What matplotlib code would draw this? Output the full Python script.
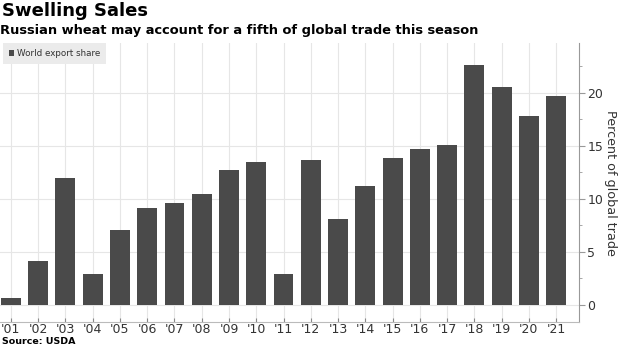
import numpy as np
import matplotlib.pyplot as plt
from matplotlib.ticker import MultipleLocator

# ---------------------------
# Data
# ---------------------------
years = ["'01", "'02", "'03", "'04", "'05", "'06", "'07", "'08", "'09", "'10", "'11",
         "'12", "'13", "'14", "'15", "'16", "'17", "'18", "'19", "'20", "'21"]
share = [0.7, 4.1, 12.0, 2.9, 7.1, 9.1, 9.6, 10.5, 12.7, 13.5, 2.9,
         13.7, 8.1, 11.2, 13.9, 14.7, 15.1, 22.6, 20.6, 17.8, 19.7]

bar_color = "#4a4a4a"
grid_color = "#e6e6e6"
text_color = "#333333"

# ---------------------------
# Plot
# ---------------------------
fig = plt.figure(figsize=(6.2, 3.48), dpi=100)
ax = fig.add_axes([0.0, 0.075, 0.934, 0.801])

x = np.arange(len(years))
ax.bar(x, share, width=0.73, color=bar_color, zorder=3, label="World export share")

ax.set_xlim(-0.40, 20.84)
ax.set_ylim(-1.6, 24.7)
ax.set_xticks(x)
ax.set_xticklabels(years, fontsize=9, color=text_color)

ax.yaxis.tick_right()
ax.yaxis.set_label_position("right")
ax.yaxis.set_minor_locator(MultipleLocator(2.5))
ax.set_yticks([0, 5, 10, 15, 20])
ax.tick_params(axis="y", which="major", length=4, color="#999999", labelsize=9,
               labelcolor=text_color, pad=2)
ax.tick_params(axis="y", which="minor", length=2, color="#999999")
ax.tick_params(axis="x", direction="in", length=3, color="#888888", pad=1)
ax.set_ylabel("Percent of global trade", rotation=270, labelpad=10,
              fontsize=9.2, color=text_color)

ax.grid(True, color=grid_color, linewidth=0.8, zorder=0)
ax.grid(False, which="minor")
for side in ["top", "left"]:
    ax.spines[side].set_visible(False)
ax.spines["right"].set_color("#999999")
ax.spines["bottom"].set_color("#bbbbbb")

leg = ax.legend(loc="upper left", bbox_to_anchor=(0.005, 1.0), frameon=True,
                fontsize=6.3, handlelength=0.6, handleheight=0.6,
                handletextpad=0.3, borderpad=0.7, borderaxespad=0.0)
leg.get_frame().set_facecolor("#ebebeb")
leg.get_frame().set_edgecolor("none")
leg.get_frame().set_alpha(1)
leg.get_frame().set_boxstyle("square", pad=0)
for t in leg.get_texts():
    t.set_color(text_color)

fig.text(0.003, 0.995, "Swelling Sales", fontsize=13, fontweight="bold",
         va="top", ha="left", color="black")
fig.text(0.0, 0.93, "Russian wheat may account for a fifth of global trade this season",
         fontsize=9.35, fontweight="bold", va="top", ha="left", color="black")
fig.text(0.003, 0.005, "Source: USDA", fontsize=6.8, fontweight="bold",
         va="bottom", ha="left", color="black")

fig.savefig("out.png", dpi=100)
